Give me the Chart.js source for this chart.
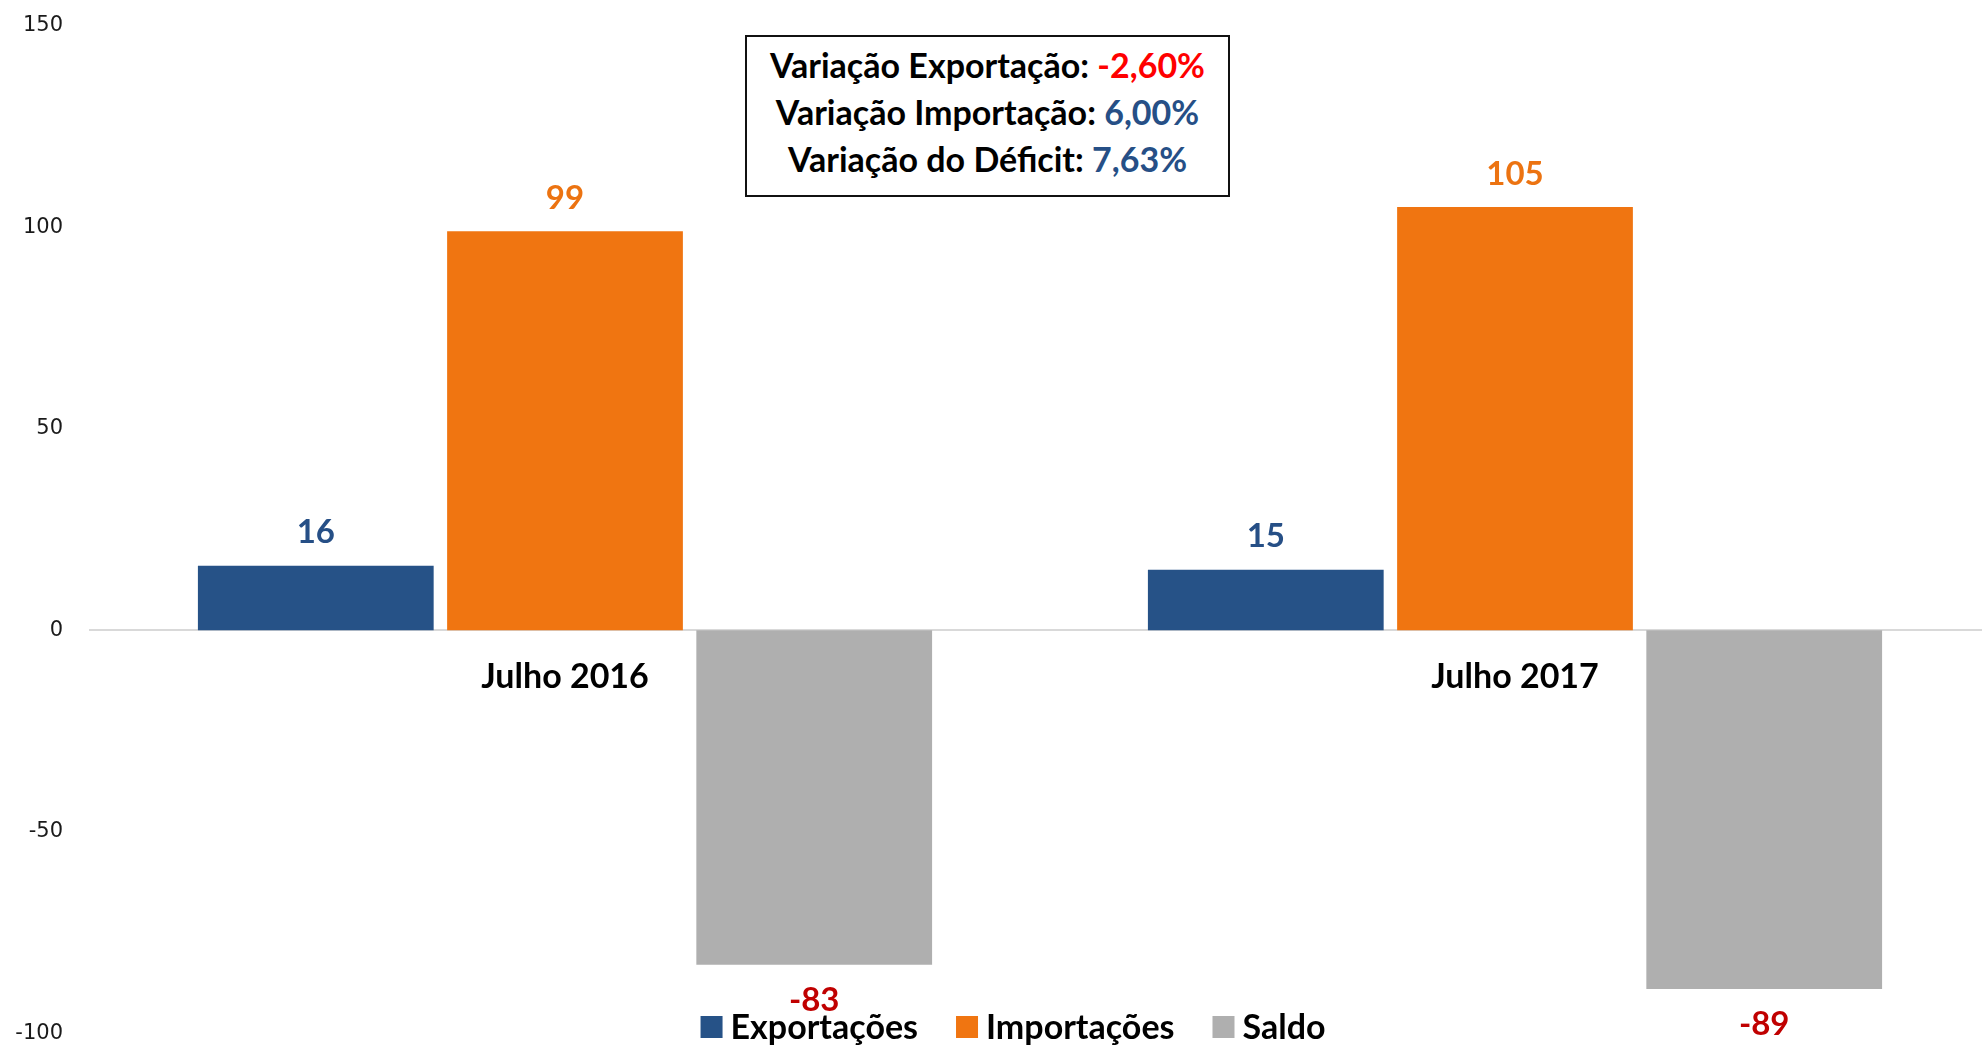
<!DOCTYPE html>
<html>
<head>
<meta charset="utf-8">
<script src="https://cdn.jsdelivr.net/npm/chart.js@4.4.1/dist/chart.umd.min.js"></script>
<style>
  html, body { margin: 0; padding: 0; background: #fff; overflow: hidden; }
  #wrap { position: relative; width: 2026px; height: 1046px; overflow: hidden; }
  #saldo { position: absolute; left: 0; top: -14px; }
  #box {
    position: absolute; left: 745px; top: 35px; width: 481px; height: 154px;
    border: 2px solid #111; background: #fff;
    font-family: Lato, sans-serif; font-weight: bold; font-size: 34px;
    line-height: 47px; text-align: center; padding-top: 4px; box-sizing: content-box;
  }
  #box .red { color: #ff0000; }
  #box .blue { color: #264f86; }
</style>
</head>
<body>
<div id="wrap">
  <canvas id="saldo" width="2026" height="1087"></canvas>
  <div id="box">
    <div>Variação Exportação: <span class="red">-2,60%</span></div>
    <div>Variação Importação: <span class="blue">6,00%</span></div>
    <div>Variação do Déficit: <span class="blue">7,63%</span></div>
  </div>
</div>
<script>
const categories = ['Julho 2016', 'Julho 2017'];
const seriesNames = ['Exportações', 'Importações', 'Saldo'];
const exportacoes = [16, 15];
const importacoes = [99, 105];
const saldo = [-83, -89];
const yTicks = [-100, -50, 0, 50, 100, 150];

const barColors = ['#265287', '#f07511', '#afafaf'];
const labelColors = ['#264f86', '#ec7311', '#c00000'];

// numbers above / below each bar
const valueLabels = {
    id: 'valueLabels',
    afterDatasetsDraw(chart) {
        const ctx = chart.ctx;
        ctx.save();
        ctx.font = 'bold 33px Lato, sans-serif';
        ctx.textAlign = 'center';
        ctx.textBaseline = 'middle';
        chart.data.datasets.forEach((ds, i) => {
            chart.getDatasetMeta(i).data.forEach((bar, j) => {
                const v = ds.data[j];
                ctx.fillStyle = labelColors[i];
                const y = v >= 0 ? bar.y - 33 : bar.y + 35;
                ctx.fillText(String(v), bar.x, y);
            });
        });
        ctx.restore();
    }
};

// legend drawn over the bottom of the plot, like the original
const bottomLegend = {
    id: 'bottomLegend',
    afterDraw(chart) {
        const ctx = chart.ctx;
        const box = 22, gap = 8, spacing = 38;
        ctx.save();
        ctx.font = 'bold 34px Lato, sans-serif';
        ctx.textBaseline = 'middle';
        const items = chart.data.datasets.map(ds => ({ text: ds.label, color: ds.backgroundColor, w: ctx.measureText(ds.label).width }));
        let total = 0;
        items.forEach((it, k) => { total += box + gap + it.w + (k < items.length - 1 ? spacing : 0); });
        let x = 1013 - total / 2;
        const y = 1041;
        items.forEach(it => {
            ctx.fillStyle = it.color;
            ctx.fillRect(x, y - box / 2, box, box);
            x += box + gap;
            ctx.fillStyle = '#000';
            ctx.fillText(it.text, x, y + 1);
            x += it.w + spacing;
        });
        ctx.restore();
    }
};

const ctx = document.getElementById('saldo');
new Chart(ctx, {
    type: 'bar',
    data: {
        labels: categories,
        datasets: [
            { label: seriesNames[0], data: exportacoes, backgroundColor: barColors[0] },
            { label: seriesNames[1], data: importacoes, backgroundColor: barColors[1] },
            { label: seriesNames[2], data: saldo, backgroundColor: barColors[2] }
        ]
    },
    options: {
        responsive: false,
        animation: false,
        devicePixelRatio: 1,
        categoryPercentage: 0.787,
        barPercentage: 0.946,
        layout: { padding: { top: 13, bottom: -9, right: 36, left: 0 } },
        plugins: {
            legend: { display: false },
            tooltip: { enabled: false }
        },
        scales: {
            x: {
                position: { y: 0 },
                grid: { display: false, drawTicks: false },
                border: { display: true, color: '#d9d9d9', width: 2 },
                ticks: {
                    color: '#000',
                    font: { family: 'Lato, sans-serif', size: 34, weight: 'bold' },
                    padding: 26
                }
            },
            y: {
                min: -100,
                max: 150,
                grid: { display: false, drawTicks: false },
                border: { display: false },
                afterFit(scale) { scale.width = 90; },
                afterBuildTicks(scale) { scale.ticks = yTicks.map(v => ({ value: v })); },
                ticks: {
                    color: '#1a1a1a',
                    font: { family: 'DejaVu Sans, sans-serif', size: 21 },
                    padding: 27
                }
            }
        }
    },
    plugins: [valueLabels, bottomLegend]
});
</script>
</body>
</html>
